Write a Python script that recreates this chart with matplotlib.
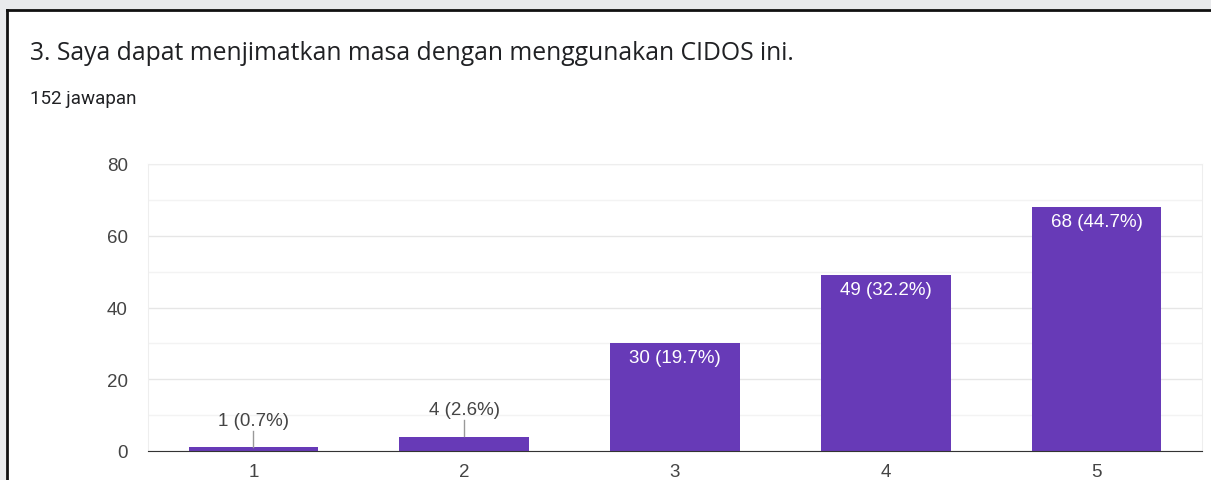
import matplotlib.pyplot as plt
from matplotlib.patches import Rectangle
from matplotlib.lines import Line2D

plt.rcParams['font.family'] = ['Liberation Sans', 'DejaVu Sans']

categories = ['1', '2', '3', '4', '5']
counts = [1, 4, 30, 49, 68]
percents = [0.7, 2.6, 19.7, 32.2, 44.7]

W, H = 1211, 481
fig = plt.figure(figsize=(W / 100, H / 100), dpi=100)
fig.patch.set_facecolor('#e9eaec')

# white card with black border
fig.patches.append(Rectangle((8 / W, 0), 1, (H - 12) / H, transform=fig.transFigure,
                             facecolor='white', edgecolor='none', zorder=-5))
fig.lines.append(Line2D([7 / W, 1], [(H - 11) / H] * 2, transform=fig.transFigure,
                        color='#111111', lw=2, zorder=-4))
fig.lines.append(Line2D([7 / W] * 2, [0, (H - 11) / H], transform=fig.transFigure,
                        color='#111111', lw=2, zorder=-4))

fig.text(30 / W, 1 - 54 / H, '3. Saya dapat menjimatkan masa dengan menggunakan CIDOS ini.',
         fontsize=17.8, color='#202124', va='center', ha='left', family=['Open Sans', 'DejaVu Sans'])
fig.text(30 / W, 1 - 99 / H, '152 jawapan', fontsize=13.5, color='#202124',
         va='center', ha='left', family=['Roboto', 'DejaVu Sans'])

ax = fig.add_axes([148 / W, 29 / H, 1054 / W, 287 / H])
ax.set_facecolor('white')
x = list(range(len(categories)))
bars = ax.bar(x, counts, width=0.615, color='#673ab7', zorder=3)

ax.set_xlim(-0.5, 4.5)
ax.set_ylim(0, 80)
ax.set_yticks([0, 20, 40, 60, 80])
ax.set_yticks([10, 30, 50, 70], minor=True)
ax.set_xticks(x)
ax.set_xticklabels(categories)
ax.grid(True, which='major', axis='y', color='#e6e6e6', lw=1, zorder=0)
ax.grid(True, which='minor', axis='y', color='#f3f3f3', lw=1, zorder=0)
for s in ['top', 'right', 'left']:
    ax.spines[s].set_color('#eeeeee')
ax.spines['bottom'].set_color('#333333')
ax.spines['bottom'].set_zorder(4)
ax.tick_params(axis='both', length=0, labelsize=13.5, colors='#444444')
ax.tick_params(axis='y', pad=14.5)
ax.tick_params(axis='x', pad=9)
ax.tick_params(which='minor', length=0)

for xi, c, p in zip(x, counts, percents):
    lab = f'{c} ({p}%)'
    if c >= 20:
        ax.text(xi, c - 1.6, lab, ha='center', va='top', color='white', fontsize=13.5, zorder=5)
    else:
        ax.plot([xi, xi], [c + 0.2, c + 4.6], color='#999999', lw=1, zorder=4)
        ax.text(xi, c + 7.6, lab, ha='center', va='center', color='#444444', fontsize=13.5, zorder=5)

fig.savefig('out.png', dpi=100, facecolor=fig.get_facecolor())
